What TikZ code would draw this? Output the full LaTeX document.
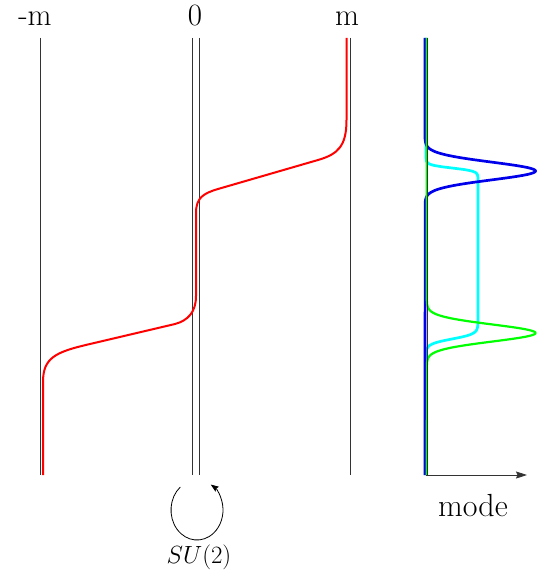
\documentclass[tikz,border=0pt]{standalone}
\usetikzlibrary{arrows.meta,calc}
\begin{document}
\begin{tikzpicture}[x=1pt,y=-1pt,
  guide/.style={draw=black!80, line width=0.8pt},
  field/.style={draw={rgb,255:red,255;green,0;blue,0}, line width=2pt},
  modecurve/.style={line width=2.7pt, line join=round},
  lbl/.style={font=\fontsize{31}{36}\selectfont, anchor=base, inner sep=0pt},
  tip/.style={-{Stealth[length=8pt,width=6pt,inset=1.5pt]}},
  bigtip/.style={-{Stealth[length=11pt,width=7pt,inset=1.5pt]}}
]
\useasboundingbox (0,0) rectangle (540,578);
% guide lines
\coordinate (mlt) at (40,38);    \coordinate (mlb) at (40,475);
\coordinate (zat) at (192.7,38); \coordinate (zab) at (192.7,475);
\coordinate (zbt) at (199.3,38); \coordinate (zbb) at (199.3,475);
\coordinate (mpt) at (350,38);   \coordinate (mpb) at (350,475);
\draw[guide] (mlt) -- (mlb);
\draw[guide] (zat) -- (zab);
\draw[guide] (zbt) -- (zbb);
\draw[guide] (mpt) -- (mpb);
% labels
\node[lbl] (lm) at (35,26) {-m};
\node[lbl] (l0) at (195,26) {0};
\node[lbl] (lp) at (347,26) {m};
% red profile
\coordinate (r0) at (346.5,38);
\coordinate (r5) at (43,475);
\draw[field] (r0) -- (346.5,120) .. controls (346.5,146) and (338,154.2) .. (318,160)
  -- (218,189) .. controls (203,193.4) and (196,198) .. (196,213)
  -- (196,296) .. controls (196,312) and (188,320.5) .. (175,324)
  -- (90,344) .. controls (55,352) and (43,358) .. (43,382) -- (r5);
% SU(2) loop
\coordinate (lc) at (197,510);
\draw[black, line width=0.8pt, tip] ($(lc)+(-130:26 and 30)$) arc[start angle=-130, end angle=-418, x radius=26, y radius=30];
\node[font=\fontsize{23}{27}\selectfont, inner sep=0pt] (su) at (199,557) {$SU(2)$};
% mode axis
\coordinate (at) at (426,38);
\coordinate (ao) at (426,475);
\coordinate (ae) at (527,475);
\node[font=\fontsize{32}{36}\selectfont, inner sep=0pt] (ml) at (473,506) {mode};
% mode curves
\draw[modecurve, draw={rgb,255:red,0;green,255;blue,255}] (at) -- (426,150) -- plot[domain=150:372, samples=160, variable=\t]
  ({426+26*(tanh(max(-4.5,min(4.5,(\t-168)/3)))-tanh(max(-4.5,min(4.5,(\t-339)/5))))}, {\t}) -- (ao);
\draw[modecurve, draw={rgb,255:red,0;green,0;blue,235}] (425,38) -- (425,139) -- plot[domain=139:203, samples=120, variable=\t]
  ({425+110.5*exp(-((\t-171)/12.5)^2)}, {\t}) -- (425,475);
\draw[modecurve, line width=2.2pt, draw={rgb,255:red,0;green,255;blue,0}] (426.8,38) -- (426.8,301) -- plot[domain=301:365, samples=120, variable=\t]
  ({426.8+108.7*exp(-((\t-333)/12)^2)}, {\t}) -- (426.8,475);
\draw[guide] ($(at)+(1.4,0)$) -- ($(ao)+(1.4,0)$);
\draw[guide, bigtip] (ao) -- (ae);
\end{tikzpicture}
\end{document}
